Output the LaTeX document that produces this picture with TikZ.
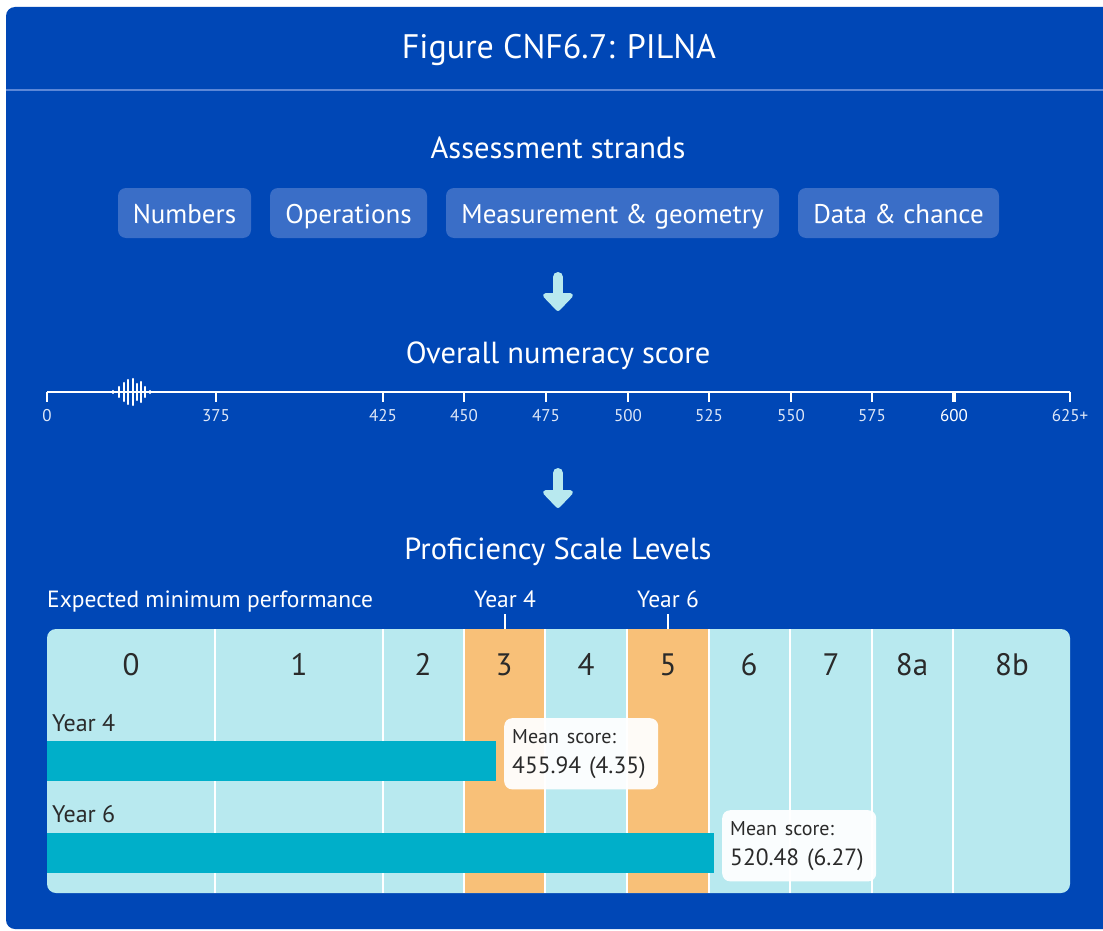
\documentclass[tikz,border=0pt]{standalone}
\usepackage{fontspec}
\setmainfont{PT Sans}
\usetikzlibrary{arrows.meta}
\definecolor{panelblue}{RGB}{0,71,182}
\definecolor{strandblue}{RGB}{58,110,199}
\definecolor{rulelight}{RGB}{92,135,215}
\definecolor{levelcyan}{RGB}{184,233,239}
\definecolor{levelorange}{RGB}{248,192,120}
\definecolor{barcyan}{RGB}{0,175,201}
\definecolor{inkdark}{RGB}{42,42,42}
\definecolor{ticklabel}{RGB}{222,231,247}
\begin{document}
\begin{tikzpicture}[x=1pt, y=-1pt,
    heading/.style={text=white, anchor=base, inner sep=0pt, font=\fontsize{30.5}{36}\selectfont},
    strandbox/.style={fill=strandblue, rounded corners=8pt, text=white, minimum height=50pt, text height=24pt, text depth=4pt, inner xsep=12pt, font=\fontsize{27}{32}\selectfont},
    flowarrow/.style={levelcyan, line width=10pt, line cap=round, -{Triangle[width=35pt, length=19pt, round]}},
    tickname/.style={text=ticklabel, anchor=base, inner sep=0pt, font=\fontsize{17}{20}\selectfont},
    levelname/.style={text=inkdark, anchor=base, inner sep=0pt, font=\fontsize{31}{36}\selectfont},
    yearname/.style={text=inkdark, anchor=base west, inner sep=0pt, font=\fontsize{24}{28}\selectfont},
    markname/.style={text=white, inner sep=0pt, font=\fontsize{23.5}{28}\selectfont},
    meanbox/.style={fill=white, fill opacity=0.94, text opacity=1, rounded corners=8pt, text=inkdark, align=left, anchor=north west, minimum width=153pt, minimum height=70pt, text width=138pt, inner xsep=8pt, inner ysep=11pt, font=\fontsize{23.5}{30}\selectfont}
  ]
  \useasboundingbox (0,0) rectangle (1103,931);
  \fill[white] (0,0) rectangle (1103,931);
  \fill[panelblue, rounded corners=9pt] (6,7) rectangle (1130,929);
  \draw[rulelight, line width=2pt] (6,90) -- (1103,90);

  % titles
  \node[heading, font=\fontsize{34}{40}\selectfont] (title) at (559,59) {Figure CNF6.7: PILNA};
  \node[heading] (strandstitle) at (558,159) {Assessment strands};
  \node[heading] (scoretitle) at (558,363) {Overall numeracy score};
  \node[heading] (leveltitle) at (558,559) {Proficiency Scale Levels};

  % strands
  \node[strandbox, minimum width=133pt] (numbers) at (184.5,213) {Numbers};
  \node[strandbox, minimum width=157pt] (operations) at (348.5,213) {Operations};
  \node[strandbox, minimum width=333pt] (measurement) at (612.5,213) {Measurement \& geometry};
  \node[strandbox, minimum width=201pt] (datachance) at (898.5,213) {Data \& chance};

  \coordinate (arrowtopA) at (558,277);
  \coordinate (arrowtipA) at (558,311);
  \draw[flowarrow] (arrowtopA) -- (arrowtipA);

  % score axis
  \draw[white, line width=2.5pt] (47,392) -- (1070,392);
  \foreach \x/\v in {47/0, 216/375, 383/425, 464/450, 546/475, 628/500, 709/525, 791/550, 872/575, 1070/625+}{
    \draw[white, line width=2pt] (\x,392) -- (\x,402);
    \node[tickname] (tick\x) at (\x,421) {\v};
  }
  \draw[white, line width=4pt] (954,392) -- (954,402);
  \node[tickname, text=white] (tick954) at (954,421) {600};
  % break in the scale
  \foreach \x/\h in {113/1, 119/5, 124/9, 128/12, 133/13, 137/8, 141/10, 145/5, 150/1}{
    \draw[white, line width=2.2pt, line cap=round] (\x,392-\h) -- (\x,392+\h);
  }

  \coordinate (arrowtopB) at (558,473);
  \coordinate (arrowtipB) at (558,508);
  \draw[flowarrow] (arrowtopB) -- (arrowtipB);

  % levels
  \node[markname, anchor=base west] (expected) at (47,607) {Expected minimum performance};
  \node[markname, anchor=base] (yr4top) at (505,607) {Year 4};
  \node[markname, anchor=base] (yr6top) at (668,607) {Year 6};
  \coordinate (yr4mark) at (505,629);
  \coordinate (yr6mark) at (668,629);
  \draw[white, line width=2pt] (yr4top.south) ++(0,7) -- (yr4mark);
  \draw[white, line width=2pt] (yr6top.south) ++(0,7) -- (yr6mark);

  \fill[levelcyan, rounded corners=9pt] (47,629) rectangle (1070,893);
  \fill[levelorange] (464,629) rectangle (545,893);
  \fill[levelorange] (627,629) rectangle (709,893);
  \foreach \x in {215,383,464,545,627,709,790,872,953}{
    \draw[white, line width=2pt] (\x,629) -- (\x,893);
  }
  \foreach \x/\l in {131/0, 299/1, 423/2, 504/3, 586/4, 668/5, 749/6, 831/7, 912/8a, 1012/8b}{
    \node[levelname] (level\l) at (\x,675) {\l};
  }

  \node[yearname] (yr4) at (52,731) {Year 4};
  \fill[barcyan] (47,741) rectangle (496,781);
  \node[meanbox] (mean4) at (504,718) {{\fontsize{20}{24}\selectfont Mean score:}\\455.94 (4.35)};

  \node[yearname] (yr6) at (52,822) {Year 6};
  \fill[barcyan] (47,833) rectangle (714,873);
  \node[meanbox] (mean6) at (722,810) {{\fontsize{20}{24}\selectfont Mean score:}\\520.48 (6.27)};
\end{tikzpicture}
\end{document}
